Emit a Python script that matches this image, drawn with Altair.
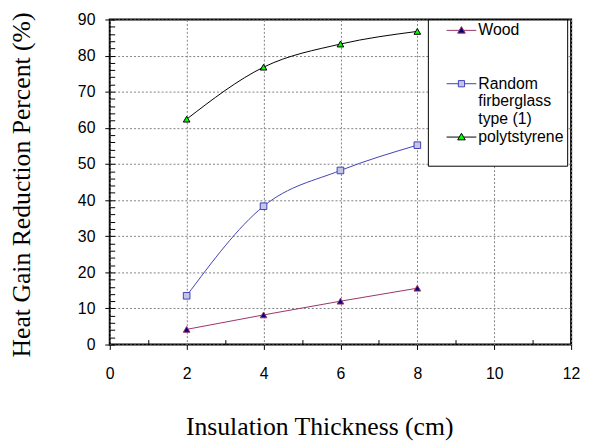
import altair as alt
import pandas as pd

# ---- data ----
thickness = [2, 4, 6, 8]
series_names = ["Wood", "Random firberglass type (1)", "polytstyrene"]
wood = [4.2, 8.2, 12.0, 15.6]
fiberglass = [13.5, 38.3, 48.2, 55.2]
polystyrene = [62.4, 76.8, 83.2, 86.7]

x_major = [0, 2, 4, 6, 8, 10, 12]
x_minor = [1, 3, 5, 7, 9, 11]
y_major = [0, 10, 20, 30, 40, 50, 60, 70, 80, 90]
y_minor = list(range(0, 92, 2))

line_colors = ["#993366", "#4040B8", "#000000"]
fill_colors = ["#000080", "#C4C4E4", "#00FF00"]
point_shapes = ["triangle-up", "square", "triangle-up"]
legend_shapes = [
    "M-4.3,0H-0.64M0.64,0H4.3M0,-1.1L1.1,0.8L-1.1,0.8Z",
    "M-4.3,0H-0.9M0.9,0H4.3M-0.9,-0.9H0.9V0.9H-0.9Z",
    "M-4.3,0H-0.64M0.64,0H4.3M0,-1.1L1.1,0.8L-1.1,0.8Z",
]

rows = []
for name, vals in zip(series_names, [wood, fiberglass, polystyrene]):
    for xv, yv in zip(thickness, vals):
        rows.append({"series": name, "x": xv, "y": yv})
df = pd.DataFrame(rows)

xscale = alt.Scale(domain=[0, 12], nice=False, zero=False)
yscale = alt.Scale(domain=[0, 90], nice=False)

axis_font = "Liberation Sans"
title_font = "Liberation Serif"

x_major_axis = alt.Axis(
    orient="bottom", values=x_major, grid=True, gridColor="#808080",
    gridDash=[2, 2], gridWidth=1, tickSize=5, tickColor="black", domain=False,
    labelFont=axis_font, labelFontSize=16, labelColor="black", labelPadding=16,
    labelFlush=False,
    title="Insulation Thickness (cm)", titleFont=title_font, titleFontSize=26,
    titleFontWeight="normal", titleColor="black", titleX=212, titleY=91,
    titleBaseline="alphabetic", titleAlign="center",
)
y_major_axis = alt.Axis(
    orient="left", values=y_major, grid=True, gridColor="#808080",
    gridDash=[2, 2], gridWidth=1, tickSize=5, tickColor="black", domain=False,
    labelFont=axis_font, labelFontSize=16, labelColor="black", labelPadding=10,
    labelFlush=False,
    title="Heat Gain Reduction Percent (%)", titleFont=title_font,
    titleFontSize=26, titleFontWeight="normal", titleColor="black",
    titleX=-76, titleY=167, titleAngle=270, titleAlign="center",
    titleBaseline="bottom",
)
x_minor_axis = alt.Axis(
    orient="bottom", values=x_minor, grid=False, tickSize=5, tickColor="black",
    domain=False, labels=False, offset=-5, title=None,
)
y_minor_axis = alt.Axis(
    orient="left", values=y_minor, grid=False, tickSize=5, tickColor="black",
    domain=False, labels=False, offset=-5, title=None,
)

lines = alt.Chart(df).mark_line(interpolate="monotone", strokeWidth=1).encode(
    x=alt.X("x:Q", scale=xscale, axis=x_major_axis),
    y=alt.Y("y:Q", scale=yscale, axis=y_major_axis),
    stroke=alt.Stroke("series:N", scale=alt.Scale(domain=series_names, range=line_colors), legend=None),
    detail="series:N",
)

points = alt.Chart(df).mark_point(filled=True, size=45, strokeWidth=1, opacity=1).encode(
    x=alt.X("x:Q", scale=xscale, axis=x_minor_axis),
    y=alt.Y("y:Q", scale=yscale, axis=y_minor_axis),
    fill=alt.Fill("series:N", scale=alt.Scale(domain=series_names, range=fill_colors), legend=None),
    stroke=alt.Stroke("series:N", scale=alt.Scale(domain=series_names, range=line_colors), legend=None),
    shape=alt.Shape("series:N", scale=alt.Scale(domain=series_names, range=point_shapes), legend=None),
)

legend_def = alt.Legend(
    orient="none", legendX=322, legendY=0, strokeColor="black", fillColor="white",
    padding=3, symbolSize=49, symbolOffset=23, symbolStrokeWidth=1,
    labelOffset=9, labelFont=axis_font, labelFontSize=16, labelColor="black",
    labelLimit=300, rowPadding=2, title=" ", titleOrient="bottom",
    titleFontSize=8, titlePadding=10,
    labelExpr=(
        "datum.label == 'Random firberglass type (1)' ? "
        "['Random', 'firberglass', 'type (1)'] : "
        "(datum.label == 'polytstyrene' ? 'polytstyrene\u00a0\u00a0\u00a0\u00a0\u00a0' : [datum.label, '', ''])"
    ),
)

legend_layer = alt.Chart(df).transform_filter("false").mark_point(
    filled=True, size=49, strokeWidth=1, opacity=1
).encode(
    x=alt.X("x:Q", scale=xscale, axis=None),
    y=alt.Y("y:Q", scale=yscale, axis=None),
    fill=alt.Fill("series:N", scale=alt.Scale(domain=series_names, range=fill_colors), legend=legend_def, title=" "),
    stroke=alt.Stroke("series:N", scale=alt.Scale(domain=series_names, range=line_colors), legend=legend_def, title=" "),
    shape=alt.Shape("series:N", scale=alt.Scale(domain=series_names, range=legend_shapes), legend=legend_def, title=" "),
)

chart = alt.layer(lines, points, legend_layer).resolve_scale(
    fill="independent", stroke="independent", shape="independent"
).resolve_axis(
    x="independent", y="independent"
).properties(
    width=467, height=329,
    autosize=alt.AutoSizeParams(type="none"),
    padding={"left": 103, "top": 9, "right": 10, "bottom": 95},
    background="white",
).configure_view(
    stroke="black", strokeWidth=2
)

chart.save("out.html", embed_options={"renderer": "svg", "actions": False})
